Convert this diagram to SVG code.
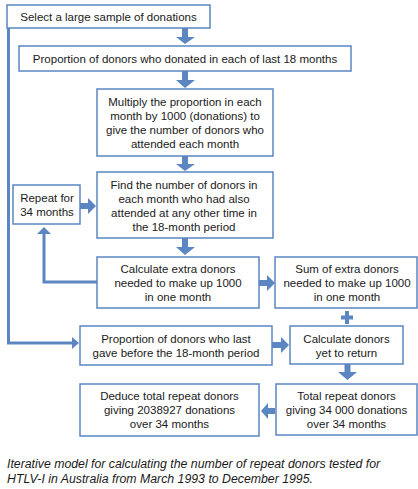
<svg xmlns="http://www.w3.org/2000/svg" width="418" height="489" viewBox="0 0 418 489">
<style>
.box{fill:#fff;stroke:#5b86c2;stroke-width:1.5}
.t{font-family:"Liberation Sans",Arial,sans-serif;font-size:11.5px;fill:#1a1a1a;text-anchor:middle}
.cap{font-family:"Liberation Sans",Arial,sans-serif;font-size:12.3px;font-style:italic;fill:#1a1a1a}
.ar{fill:#5b86c2}
.ln{fill:none;stroke:#5b86c2;stroke-width:3}
</style>
<rect width="418" height="489" fill="#fff"/>
<g id="connectors">
<path class="ln" d="M8.5,28 V343 H73"/>
<polygon class="ar" points="72,337 79,343 72,349"/>
<path class="ln" d="M97,282 H44 V232"/>
<polygon class="ar" points="37,234 44,227 51,234"/>
<path class="ar" d="M182,28 H188 V37 H195 L185,44 L176,37 H182 Z"/>
<path class="ar" d="M182,71 H188 V80 H195 L185,88 L176,80 H182 Z"/>
<path class="ar" d="M182,156 H188 V164 H195 L185,171 L176,164 H182 Z"/>
<path class="ar" d="M182,238 H188 V247 H195 L185,255 L176,247 H182 Z"/>
<path class="ar" d="M80,203 H88 V198 L96,206 L88,214 V209 H80 Z"/>
<path class="ar" d="M259,280 H267 V275 L275,283 L267,291 V286 H259 Z"/>
<path class="ar" d="M272,342 H281 V337 L289,345 L281,353 V348 H272 Z"/>
<path class="ar" d="M344.5,364 H350.5 V372 H357 L347.5,380 L338,372 H344.5 Z"/>
<path class="ar" d="M275,408 H268 V403 L261,411 L268,419 V414 H275 Z"/>
<path class="ar" d="M345,311 H349 V315.5 H353 V319.5 H349 V324 H345 V319.5 H341 V315.5 H345 Z"/>
</g>
<g id="n1"><rect class="box" x="7" y="5" width="203" height="23"/><text class="t" x="108.5" y="20.5">Select a large sample of donations</text></g>
<g id="n2"><rect class="box" x="19" y="46" width="332" height="25"/><text class="t" x="185" y="62.5">Proportion of donors who donated in each of last 18 months</text></g>
<g id="n3"><rect class="box" x="97" y="89" width="176" height="67"/><text class="t" x="185" y="105.5">Multiply the proportion in each</text><text class="t" x="185" y="119.5">month by 1000 (donations) to</text><text class="t" x="185" y="133.5">give the number of donors who</text><text class="t" x="185" y="147.5">attended each month</text></g>
<g id="n4"><rect class="box" x="97" y="172" width="176" height="66"/><text class="t" x="184" y="188.5">Find the number of donors in</text><text class="t" x="184" y="202.5">each month who had also</text><text class="t" x="184" y="216.5">attended at any other time in</text><text class="t" x="184" y="230.5">the 18-month period</text></g>
<g id="n5"><rect class="box" x="13" y="185" width="67" height="39"/><text class="t" x="47" y="202">Repeat for</text><text class="t" x="47" y="216">34 months</text></g>
<g id="n6"><rect class="box" x="97" y="257" width="162" height="51"/><text class="t" x="178" y="273">Calculate extra donors</text><text class="t" x="178" y="287">needed to make up 1000</text><text class="t" x="178" y="301">in one month</text></g>
<g id="n7"><rect class="box" x="275" y="257" width="142" height="51"/><text class="t" x="347" y="273">Sum of extra donors</text><text class="t" x="347" y="287">needed to make up 1000</text><text class="t" x="347" y="301">in one month</text></g>
<g id="n8"><rect class="box" x="80" y="326" width="192" height="39"/><text class="t" x="176" y="343">Proportion of donors who last</text><text class="t" x="176" y="357">gave before the 18-month period</text></g>
<g id="n9"><rect class="box" x="290" y="326" width="113" height="38"/><text class="t" x="346.5" y="343">Calculate donors</text><text class="t" x="346.5" y="357">yet to return</text></g>
<g id="n10"><rect class="box" x="276" y="384" width="141" height="51"/><text class="t" x="346.5" y="400">Total repeat donors</text><text class="t" x="346.5" y="414">giving 34 000 donations</text><text class="t" x="346.5" y="428">over 34 months</text></g>
<g id="n11"><rect class="box" x="80" y="384" width="179" height="52"/><text class="t" x="169.5" y="400">Deduce total repeat donors</text><text class="t" x="169.5" y="414">giving 2038927 donations</text><text class="t" x="169.5" y="428">over 34 months</text></g>
<text class="cap" x="7" y="468">Iterative model for calculating the number of repeat donors tested for</text>
<text class="cap" x="7" y="483">HTLV-I in Australia from March 1993 to December 1995.</text>
</svg>
